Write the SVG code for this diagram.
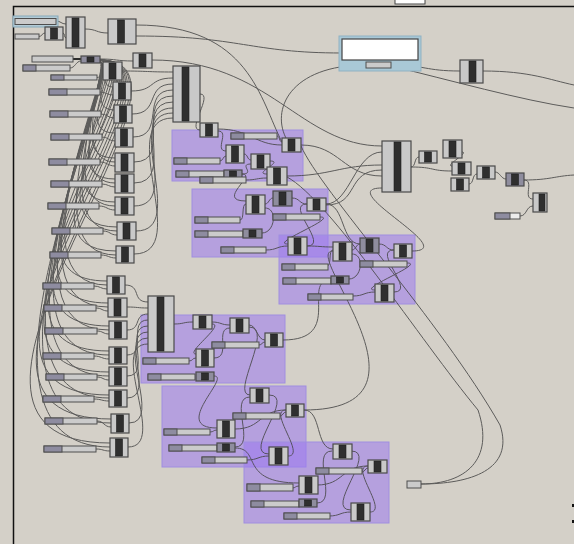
<svg xmlns="http://www.w3.org/2000/svg" width="574" height="544" viewBox="0 0 574 544">
<style>
.c{fill:#c9c9c9;stroke:#4a4a4a;stroke-width:1.2}
.k{fill:#8f8d9e;stroke:#4a4a4a;stroke-width:1.2}
.d{fill:#2f2f2f;stroke:#1e1e1e;stroke-width:.6}
.s{fill:#cbcbcb;stroke:#4e4e4e;stroke-width:1}
.sd{fill:#8e8ca0;stroke:#4e4e4e;stroke-width:1}
.g{fill:#9a78f0;fill-opacity:.55;stroke:#a08ee0;stroke-width:1}
.w{fill:none;stroke:#474747;stroke-width:1;opacity:.85}
</style>
<rect width="574" height="544" fill="#d4d0c8"/>
<rect x="395" y="-1" width="30" height="5" fill="#fff" stroke="#444"/>
<path d="M13.5 544 V6.5 H574" fill="none" stroke="#111" stroke-width="1.5"/>
<g id="groups">
<rect class="g" x="172" y="130" width="131" height="51"/>
<rect class="g" x="192" y="189" width="136" height="68"/>
<rect class="g" x="279" y="235" width="136" height="69"/>
<rect class="g" x="141" y="315" width="144" height="68"/>
<rect class="g" x="162" y="386" width="144" height="81"/>
<rect class="g" x="244" y="442" width="145" height="81"/>
</g>
<g id="connectors" class="w">
<path d="M56 21 C61 21 61 24 66 24"/>
<path d="M39 36.5 C42 36.5 42 33 45 33"/>
<path d="M63 33 C65 33 64 38 66 38"/>
<path d="M85 29 C97 29 96 33 108 33"/>
<path d="M73 59 L81 59" stroke="#111" stroke-width="2"/>
<path d="M70 68 C75 68 76 61 81 61"/>
<path d="M100 59 C117 59 116 61 133 61"/>
<path d="M100 60 C105 60 98 67 103 67"/>
<path d="M100 60 C110 60 97 87 113 87"/>
<path d="M100 60 C117 60 84 110 114 110"/>
<path d="M100 60 C126 60 71 133 115 133"/>
<path d="M100 60 C134 60 56 158 115 158"/>
<path d="M100 60 C142 60 44 179 115 179"/>
<path d="M100 60 C150 60 30 202 115 202"/>
<path d="M100 60 C158 60 17 227 117 227"/>
<path d="M100 60 C167 60 1 251 116 251"/>
<path d="M100 60 C177 60 -26 281 107 281"/>
<path d="M100 60 C185 60 -38 303 108 303"/>
<path d="M100 60 C193 60 -51 326 109 326"/>
<path d="M100 60 C202 60 -66 351 109 351"/>
<path d="M100 60 C209 60 -78 372 109 372"/>
<path d="M100 60 C217 60 -92 395 109 395"/>
<path d="M100 60 C226 60 -104 419 111 419"/>
<path d="M100 60 C234 60 -120 443 110 443"/>
<path d="M100 62 C108 62 70 162 115 162"/>
<path d="M100 62 C110 62 61 183 115 183"/>
<path d="M100 62 C112 62 50 206 115 206"/>
<path d="M100 62 C114 62 41 231 117 231"/>
<path d="M100 62 C115 62 29 255 116 255"/>
<path d="M100 62 C118 62 7 285 107 285"/>
<path d="M100 62 C120 62 -2 307 108 307"/>
<path d="M100 62 C121 62 -12 330 109 330"/>
<path d="M100 62 C123 62 -23 355 109 355"/>
<path d="M100 62 C125 62 -32 376 109 376"/>
<path d="M100 62 C127 62 -42 398 109 398"/>
<path d="M100 62 C129 62 -51 423 111 423"/>
<path d="M100 62 C131 62 -63 447 110 447"/>
<path d="M97 77.5 C100 77.5 100 75 103 75"/>
<path d="M100 92 C106 92 107 95 113 95"/>
<path d="M101 114 C107 114 108 118 114 118"/>
<path d="M102 137 C108 137 109 141 115 141"/>
<path d="M100 162 C107 162 108 166 115 166"/>
<path d="M102 184 C108 184 109 187 115 187"/>
<path d="M99 206 C107 206 107 210 115 210"/>
<path d="M103 231 C110 231 110 235 117 235"/>
<path d="M101 255 C108 255 109 258 116 258"/>
<path d="M94 286 C100 286 101 289 107 289"/>
<path d="M96 308 C102 308 102 311 108 311"/>
<path d="M97 331 C103 331 103 334 109 334"/>
<path d="M94 356 C101 356 102 359 109 359"/>
<path d="M97 377 C103 377 103 380 109 380"/>
<path d="M94 399 C101 399 102 401 109 401"/>
<path d="M97 421 C104 421 104 427 111 427"/>
<path d="M96 449 C103 449 103 451 110 451"/>
<path d="M122 71 C148 71 147 72 173 72"/>
<path d="M131 91 C156 91 148 78 173 78"/>
<path d="M132 114 C161 114 144 84 173 84"/>
<path d="M133 137 C167 137 139 90 173 90"/>
<path d="M134 162 C174 162 133 96 173 96"/>
<path d="M134 183 C178 183 129 102 173 102"/>
<path d="M134 206 C183 206 124 108 173 108"/>
<path d="M136 231 C190 231 119 113 173 113"/>
<path d="M134 254 C194 254 113 118 173 118"/>
<path d="M125 285 C142 285 131 302 148 302"/>
<path d="M127 307 C138 307 137 308 148 308"/>
<path d="M127 330 C142 330 133 314 148 314"/>
<path d="M127 355 C148 355 127 320 148 320"/>
<path d="M127 376 C153 376 122 326 148 326"/>
<path d="M127 398 C157 398 118 332 148 332"/>
<path d="M129 423 C164 423 113 338 148 338"/>
<path d="M128 447 C169 447 107 344 148 344"/>
<path d="M136 36 C240 36 250 53 342 53"/>
<path d="M136 25 C250 25 260 100 282 142"/>
<path d="M152 60 C270 60 300 146 382 146"/>
<path d="M366 65 C290 65 270 110 287 140"/>
<path d="M391 65 C425 65 425 71 460 71"/>
<path d="M391 66 C450 80 520 100 574 108"/>
<path d="M483 71 C530 71 550 80 574 85"/>
<path d="M200 94 C214 94 186 130 200 130"/>
<path d="M218 129 C250 129 255 145 282 145"/>
<path d="M218 131 C230 131 214 151 226 151"/>
<path d="M220 161 C223 161 223 156 226 156"/>
<path d="M244 154 C248 154 247 160 251 160"/>
<path d="M242 174 C256 174 238 164 251 164"/>
<path d="M277 136 C280 136 279 142 282 142"/>
<path d="M246 180 C256 180 257 178 267 178"/>
<path d="M270 161 C285 161 252 174 267 174"/>
<path d="M301 145 C340 145 343 176 382 176"/>
<path d="M287 176 C330 176 340 165 382 165"/>
<path d="M301 146 C320 190 440 320 500 425 C515 470 470 484 421 484"/>
<path d="M287 177 C330 200 420 340 478 410 C495 460 465 484 421 484"/>
<path d="M242 174 C258 174 215 201 246 201"/>
<path d="M240 220 C245 220 241 204 246 204"/>
<path d="M265 204 C269 204 269 198 273 198"/>
<path d="M292 198 C300 198 299 204 307 204"/>
<path d="M262 233 C275 233 278 208 265 208"/>
<path d="M266 250 C277 250 277 246 288 246"/>
<path d="M320 217 C340 217 268 244 288 244"/>
<path d="M307 246 C330 246 284 204 307 204"/>
<path d="M327 266 C332 266 328 250 333 250"/>
<path d="M352 250 C356 250 356 244 360 244"/>
<path d="M379 244 C387 244 386 250 394 250"/>
<path d="M349 279 C362 279 365 254 352 254"/>
<path d="M353 296 C364 296 364 292 375 292"/>
<path d="M407 263 C427 263 355 290 375 290"/>
<path d="M394 292 C417 292 371 250 394 250"/>
<path d="M307 246 C320 246 320 247 333 247"/>
<path d="M326 204 C350 204 355 152 382 152"/>
<path d="M326 205 C360 205 345 170 382 170"/>
<path d="M326 204 C345 204 341 244 360 244"/>
<path d="M412 251 C462 251 332 188 382 188"/>
<path d="M174 324 C184 324 183 322 193 322"/>
<path d="M212 322 C221 322 221 325 230 325"/>
<path d="M249 325 C257 325 257 340 265 340"/>
<path d="M259 345 C262 345 262 342 265 342"/>
<path d="M189 361 C193 361 192 358 196 358"/>
<path d="M212 324 C226 324 184 354 196 354"/>
<path d="M214 358 C232 358 214 328 230 328"/>
<path d="M214 376 C232 376 170 428 217 428"/>
<path d="M249 327 C275 327 230 395 250 395"/>
<path d="M283 340 C345 340 300 280 331 280"/>
<path d="M210 432 C214 432 213 430 217 430"/>
<path d="M247 460 C258 460 258 456 269 456"/>
<path d="M235 447 C257 447 228 397 250 397"/>
<path d="M235 429 C262 429 259 410 286 410"/>
<path d="M269 395 C297 395 241 454 269 454"/>
<path d="M288 456 C307 456 267 410 286 410"/>
<path d="M280 416 C283 416 283 412 286 412"/>
<path d="M292 488 C296 488 295 486 299 486"/>
<path d="M329 516 C340 516 340 512 351 512"/>
<path d="M317 503 C339 503 310 451 332 451"/>
<path d="M317 485 C344 485 341 466 368 466"/>
<path d="M351 451 C379 451 323 510 351 510"/>
<path d="M370 512 C389 512 349 466 368 466"/>
<path d="M362 472 C365 472 365 468 368 468"/>
<path d="M235 448 C262 448 238 483 299 483"/>
<path d="M304 410 C322 410 315 449 333 449"/>
<path d="M304 410 C450 410 300 251 333 251"/>
<path d="M411 167 C416 167 414 157 419 157"/>
<path d="M411 167 C435 167 430 171 452 171"/>
<path d="M462 152 C470 152 444 166 452 166"/>
<path d="M469 184 C474 184 472 174 477 174"/>
<path d="M495 172 C500 172 501 179 506 179"/>
<path d="M524 180 C550 180 555 176 574 175"/>
<path d="M524 180 C535 180 522 199 533 199"/>
<path d="M520 216 C527 216 526 206 533 206"/>
</g>
<g id="panel1"><rect x="13" y="16" width="45" height="11" fill="#b3cbd6" stroke="#86a9ba"/><rect class="s" x="15" y="18.5" width="41" height="6"/></g>
<g id="s1"><rect class="s" x="15" y="34" width="24" height="5"/></g>
<g id="c1"><rect class="c" x="45" y="27" width="18" height="13"/><rect class="d" x="50.5" y="28" width="7" height="11"/></g>
<g id="c2"><rect class="c" x="66" y="17" width="19" height="31"/><rect class="d" x="72" y="18" width="7" height="29"/></g>
<g id="c3"><rect class="c" x="108" y="19" width="28" height="25"/><rect class="d" x="117.5" y="20" width="7" height="23"/></g>
<g id="s2"><rect class="s" x="32" y="56" width="41" height="6"/></g>
<g id="s3"><rect class="s" x="23" y="65" width="47" height="6"/><rect class="sd" x="23" y="65" width="13" height="6"/></g>
<g id="c4"><rect class="k" x="81" y="56" width="19" height="7"/><rect class="d" x="87" y="57" width="7" height="5"/></g>
<g id="c5"><rect class="c" x="133" y="53" width="19" height="15"/><rect class="d" x="139" y="54" width="7" height="13"/></g>
<g id="big1"><rect class="c" x="173" y="66" width="27" height="56"/><rect class="d" x="182" y="67" width="7" height="54"/></g>
<g id="c6"><rect class="c" x="103" y="62" width="19" height="18"/><rect class="d" x="109" y="63" width="7" height="16"/></g>
<g id="c7"><rect class="c" x="113" y="82" width="18" height="18"/><rect class="d" x="118.5" y="83" width="7" height="16"/></g>
<g id="c8"><rect class="c" x="114" y="105" width="18" height="18"/><rect class="d" x="119.5" y="106" width="7" height="16"/></g>
<g id="c9"><rect class="c" x="115" y="128" width="18" height="19"/><rect class="d" x="120.5" y="129" width="7" height="17"/></g>
<g id="c10"><rect class="c" x="115" y="153" width="19" height="19"/><rect class="d" x="121" y="154" width="7" height="17"/></g>
<g id="c11"><rect class="c" x="115" y="174" width="19" height="19"/><rect class="d" x="121" y="175" width="7" height="17"/></g>
<g id="c12"><rect class="c" x="115" y="197" width="19" height="18"/><rect class="d" x="121" y="198" width="7" height="16"/></g>
<g id="c13"><rect class="c" x="117" y="222" width="19" height="18"/><rect class="d" x="123" y="223" width="7" height="16"/></g>
<g id="c14"><rect class="c" x="116" y="246" width="18" height="17"/><rect class="d" x="121.5" y="247" width="7" height="15"/></g>
<g id="c15"><rect class="c" x="107" y="276" width="18" height="18"/><rect class="d" x="112.5" y="277" width="7" height="16"/></g>
<g id="c16"><rect class="c" x="108" y="298" width="19" height="19"/><rect class="d" x="114" y="299" width="7" height="17"/></g>
<g id="c17"><rect class="c" x="109" y="321" width="18" height="18"/><rect class="d" x="114.5" y="322" width="7" height="16"/></g>
<g id="c18"><rect class="c" x="109" y="347" width="18" height="17"/><rect class="d" x="114.5" y="348" width="7" height="15"/></g>
<g id="c19"><rect class="c" x="109" y="367" width="18" height="19"/><rect class="d" x="114.5" y="368" width="7" height="17"/></g>
<g id="c20"><rect class="c" x="109" y="390" width="18" height="17"/><rect class="d" x="114.5" y="391" width="7" height="15"/></g>
<g id="c21"><rect class="c" x="111" y="414" width="18" height="19"/><rect class="d" x="116.5" y="415" width="7" height="17"/></g>
<g id="c22"><rect class="c" x="110" y="438" width="18" height="19"/><rect class="d" x="115.5" y="439" width="7" height="17"/></g>
<g id="s4"><rect class="s" x="51" y="75" width="46" height="5"/><rect class="sd" x="51" y="75" width="13" height="5"/></g>
<g id="s5"><rect class="s" x="49" y="89" width="51" height="6"/><rect class="sd" x="49" y="89" width="18" height="6"/></g>
<g id="s6"><rect class="s" x="50" y="111" width="51" height="6"/><rect class="sd" x="50" y="111" width="18" height="6"/></g>
<g id="s7"><rect class="s" x="51" y="134" width="51" height="6"/><rect class="sd" x="51" y="134" width="18" height="6"/></g>
<g id="s8"><rect class="s" x="49" y="159" width="51" height="6"/><rect class="sd" x="49" y="159" width="18" height="6"/></g>
<g id="s9"><rect class="s" x="51" y="181" width="51" height="6"/><rect class="sd" x="51" y="181" width="18" height="6"/></g>
<g id="s10"><rect class="s" x="48" y="203" width="51" height="6"/><rect class="sd" x="48" y="203" width="18" height="6"/></g>
<g id="s11"><rect class="s" x="52" y="228" width="51" height="6"/><rect class="sd" x="52" y="228" width="18" height="6"/></g>
<g id="s12"><rect class="s" x="50" y="252" width="51" height="6"/><rect class="sd" x="50" y="252" width="18" height="6"/></g>
<g id="s13"><rect class="s" x="43" y="283" width="51" height="6"/><rect class="sd" x="43" y="283" width="18" height="6"/></g>
<g id="s14"><rect class="s" x="44" y="305" width="52" height="6"/><rect class="sd" x="44" y="305" width="18" height="6"/></g>
<g id="s15"><rect class="s" x="45" y="328" width="52" height="6"/><rect class="sd" x="45" y="328" width="18" height="6"/></g>
<g id="s16"><rect class="s" x="43" y="353" width="51" height="6"/><rect class="sd" x="43" y="353" width="18" height="6"/></g>
<g id="s17"><rect class="s" x="46" y="374" width="51" height="6"/><rect class="sd" x="46" y="374" width="18" height="6"/></g>
<g id="s18"><rect class="s" x="43" y="396" width="51" height="6"/><rect class="sd" x="43" y="396" width="18" height="6"/></g>
<g id="s19"><rect class="s" x="45" y="418" width="52" height="6"/><rect class="sd" x="45" y="418" width="18" height="6"/></g>
<g id="s20"><rect class="s" x="44" y="446" width="52" height="6"/><rect class="sd" x="44" y="446" width="18" height="6"/></g>
<g id="big2"><rect class="c" x="148" y="296" width="26" height="56"/><rect class="d" x="157" y="297" width="7" height="54"/></g>
<g id="g1a"><rect class="c" x="200" y="123" width="18" height="14"/><rect class="d" x="205.5" y="124" width="7" height="12"/></g>
<g id="g1b"><rect class="s" x="231" y="133" width="46" height="6"/><rect class="sd" x="231" y="133" width="13" height="6"/></g>
<g id="g1c"><rect class="c" x="282" y="138" width="19" height="14"/><rect class="d" x="288" y="139" width="7" height="12"/></g>
<g id="g1d"><rect class="c" x="226" y="145" width="18" height="18"/><rect class="d" x="231.5" y="146" width="7" height="16"/></g>
<g id="g1e"><rect class="c" x="251" y="154" width="19" height="15"/><rect class="d" x="257" y="155" width="7" height="13"/></g>
<g id="g1f"><rect class="s" x="174" y="158" width="46" height="6"/><rect class="sd" x="174" y="158" width="13" height="6"/></g>
<g id="g1g"><rect class="s" x="176" y="171" width="48" height="6"/><rect class="sd" x="176" y="171" width="13" height="6"/></g>
<g id="g1h"><rect class="k" x="224" y="170" width="18" height="8"/><rect class="d" x="229.5" y="171" width="7" height="6"/></g>
<g id="g1i"><rect class="s" x="200" y="177" width="46" height="6"/><rect class="sd" x="200" y="177" width="13" height="6"/></g>
<g id="g1j"><rect class="c" x="267" y="167" width="20" height="18"/><rect class="d" x="273.5" y="168" width="7" height="16"/></g>
<g id="g2a"><rect class="c" x="246" y="195" width="19" height="19"/><rect class="d" x="252" y="196" width="7" height="17"/></g>
<g id="g2b"><rect class="k" x="273" y="191" width="19" height="15"/><rect class="d" x="279" y="192" width="7" height="13"/></g>
<g id="g2c"><rect class="c" x="307" y="198" width="19" height="13"/><rect class="d" x="313" y="199" width="7" height="11"/></g>
<g id="g2d"><rect class="s" x="273" y="214" width="47" height="6"/><rect class="sd" x="273" y="214" width="13" height="6"/></g>
<g id="g2e"><rect class="s" x="195" y="217" width="45" height="6"/><rect class="sd" x="195" y="217" width="13" height="6"/></g>
<g id="g2f"><rect class="s" x="195" y="231" width="48" height="6"/><rect class="sd" x="195" y="231" width="13" height="6"/></g>
<g id="g2g"><rect class="k" x="243" y="229" width="19" height="9"/><rect class="d" x="249" y="230" width="7" height="7"/></g>
<g id="g2h"><rect class="s" x="221" y="247" width="45" height="6"/><rect class="sd" x="221" y="247" width="13" height="6"/></g>
<g id="g2i"><rect class="c" x="288" y="237" width="19" height="18"/><rect class="d" x="294" y="238" width="7" height="16"/></g>
<g id="g3a"><rect class="c" x="333" y="242" width="19" height="19"/><rect class="d" x="339" y="243" width="7" height="17"/></g>
<g id="g3b"><rect class="k" x="360" y="238" width="19" height="15"/><rect class="d" x="366" y="239" width="7" height="13"/></g>
<g id="g3c"><rect class="c" x="394" y="244" width="18" height="14"/><rect class="d" x="399.5" y="245" width="7" height="12"/></g>
<g id="g3d"><rect class="s" x="282" y="264" width="46" height="6"/><rect class="sd" x="282" y="264" width="13" height="6"/></g>
<g id="g3e"><rect class="s" x="360" y="261" width="47" height="6"/><rect class="sd" x="360" y="261" width="13" height="6"/></g>
<g id="g3f"><rect class="s" x="283" y="278" width="48" height="6"/><rect class="sd" x="283" y="278" width="13" height="6"/></g>
<g id="g3g"><rect class="k" x="331" y="276" width="18" height="8"/><rect class="d" x="336.5" y="277" width="7" height="6"/></g>
<g id="g3h"><rect class="s" x="308" y="294" width="45" height="6"/><rect class="sd" x="308" y="294" width="13" height="6"/></g>
<g id="g3i"><rect class="c" x="375" y="284" width="19" height="18"/><rect class="d" x="381" y="285" width="7" height="16"/></g>
<g id="g4a"><rect class="c" x="193" y="315" width="19" height="14"/><rect class="d" x="199" y="316" width="7" height="12"/></g>
<g id="g4b"><rect class="c" x="230" y="318" width="19" height="15"/><rect class="d" x="236" y="319" width="7" height="13"/></g>
<g id="g4c"><rect class="c" x="265" y="333" width="18" height="14"/><rect class="d" x="270.5" y="334" width="7" height="12"/></g>
<g id="g4d"><rect class="s" x="212" y="342" width="47" height="6"/><rect class="sd" x="212" y="342" width="13" height="6"/></g>
<g id="g4e"><rect class="c" x="196" y="349" width="18" height="18"/><rect class="d" x="201.5" y="350" width="7" height="16"/></g>
<g id="g4f"><rect class="s" x="143" y="358" width="46" height="6"/><rect class="sd" x="143" y="358" width="13" height="6"/></g>
<g id="g4g"><rect class="s" x="148" y="374" width="47" height="6"/><rect class="sd" x="148" y="374" width="13" height="6"/></g>
<g id="g4h"><rect class="k" x="196" y="372" width="18" height="9"/><rect class="d" x="201.5" y="373" width="7" height="7"/></g>
<g id="g5a"><rect class="c" x="250" y="388" width="19" height="15"/><rect class="d" x="256" y="389" width="7" height="13"/></g>
<g id="g5b"><rect class="c" x="286" y="404" width="18" height="13"/><rect class="d" x="291.5" y="405" width="7" height="11"/></g>
<g id="g5c"><rect class="s" x="233" y="413" width="47" height="6"/><rect class="sd" x="233" y="413" width="13" height="6"/></g>
<g id="g5d"><rect class="c" x="217" y="420" width="18" height="18"/><rect class="d" x="222.5" y="421" width="7" height="16"/></g>
<g id="g5e"><rect class="s" x="164" y="429" width="46" height="6"/><rect class="sd" x="164" y="429" width="13" height="6"/></g>
<g id="g5f"><rect class="s" x="169" y="445" width="48" height="6"/><rect class="sd" x="169" y="445" width="13" height="6"/></g>
<g id="g5g"><rect class="k" x="217" y="443" width="18" height="9"/><rect class="d" x="222.5" y="444" width="7" height="7"/></g>
<g id="g5h"><rect class="s" x="202" y="457" width="45" height="6"/><rect class="sd" x="202" y="457" width="13" height="6"/></g>
<g id="g5i"><rect class="c" x="269" y="447" width="19" height="18"/><rect class="d" x="275" y="448" width="7" height="16"/></g>
<g id="g6a"><rect class="c" x="333" y="444" width="19" height="15"/><rect class="d" x="339" y="445" width="7" height="13"/></g>
<g id="g6b"><rect class="c" x="368" y="460" width="19" height="13"/><rect class="d" x="374" y="461" width="7" height="11"/></g>
<g id="g6c"><rect class="s" x="316" y="468" width="46" height="6"/><rect class="sd" x="316" y="468" width="13" height="6"/></g>
<g id="g6d"><rect class="c" x="299" y="476" width="19" height="18"/><rect class="d" x="305" y="477" width="7" height="16"/></g>
<g id="g6e"><rect class="s" x="247" y="484" width="46" height="7"/><rect class="sd" x="247" y="484" width="13" height="7"/></g>
<g id="g6f"><rect class="s" x="251" y="501" width="48" height="6"/><rect class="sd" x="251" y="501" width="13" height="6"/></g>
<g id="g6g"><rect class="k" x="299" y="499" width="18" height="8"/><rect class="d" x="304.5" y="500" width="7" height="6"/></g>
<g id="g6h"><rect class="s" x="284" y="513" width="46" height="6"/><rect class="sd" x="284" y="513" width="13" height="6"/></g>
<g id="g6i"><rect class="c" x="351" y="503" width="19" height="18"/><rect class="d" x="357" y="504" width="7" height="16"/></g>
<g id="out"><rect class="s" x="407" y="481" width="14" height="7"/></g>
<g id="panel2"><rect x="339" y="36" width="82" height="35" fill="#a9c8d6" stroke="#8fb2c3"/><rect x="342" y="39" width="76" height="21" fill="#fff" stroke="#444" stroke-width="1.2"/><rect class="s" x="366" y="62" width="25" height="6"/></g>
<g id="r1"><rect class="c" x="460" y="60" width="23" height="23"/><rect class="d" x="469" y="61" width="7" height="21"/></g>
<g id="big3"><rect class="c" x="382" y="141" width="29" height="51"/><rect class="d" x="394" y="142" width="7" height="49"/></g>
<g id="r2"><rect class="c" x="419" y="151" width="18" height="12"/><rect class="d" x="424.5" y="152" width="7" height="10"/></g>
<g id="r3"><rect class="c" x="443" y="140" width="19" height="18"/><rect class="d" x="449" y="141" width="7" height="16"/></g>
<g id="r4"><rect class="c" x="452" y="162" width="19" height="13"/><rect class="d" x="458" y="163" width="7" height="11"/></g>
<g id="r5"><rect class="c" x="451" y="178" width="18" height="13"/><rect class="d" x="456.5" y="179" width="7" height="11"/></g>
<g id="r6"><rect class="c" x="477" y="166" width="18" height="13"/><rect class="d" x="482.5" y="167" width="7" height="11"/></g>
<g id="r7"><rect class="k" x="506" y="173" width="18" height="13"/><rect class="d" x="511.5" y="174" width="7" height="11"/></g>
<g id="r8"><rect class="c" x="533" y="193" width="14" height="19"/><rect class="d" x="539" y="194" width="6" height="17"/></g>
<g id="sr"><rect x="495" y="213" width="25" height="6" fill="#ececec" stroke="#4e4e4e"/><rect class="sd" x="495" y="213" width="15" height="6"/></g>
<rect x="572" y="504" width="2" height="3" fill="#111"/>
<rect x="572" y="520" width="2" height="3" fill="#111"/>
</svg>
